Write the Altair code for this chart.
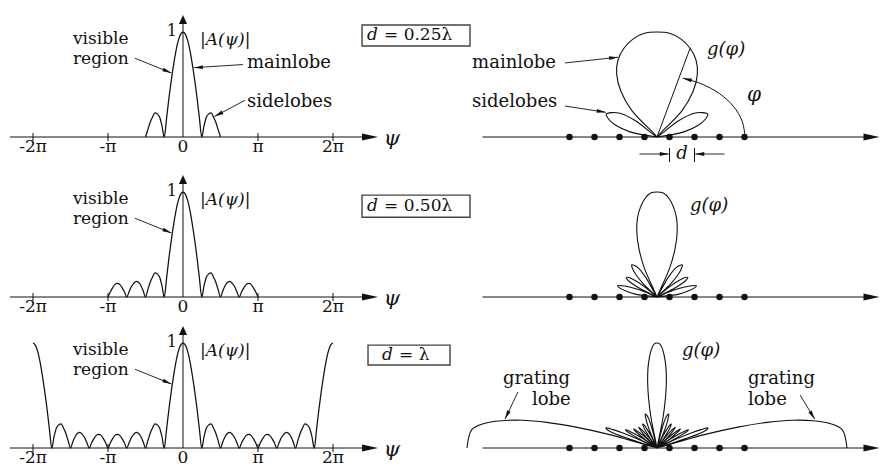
import math
import altair as alt
import pandas as pd

# ---------------- values ----------------
# psi / pi sample positions (0 .. 2), the curve is even in psi
PSI_OVER_PI = [0.0, 0.03125, 0.0625, 0.09375, 0.125, 0.15625, 0.1875, 0.21875, 0.25,
               0.28125, 0.3125, 0.34375, 0.375, 0.40625, 0.4375, 0.46875, 0.5,
               0.53125, 0.5625, 0.59375, 0.625, 0.65625, 0.6875, 0.71875, 0.75,
               0.78125, 0.8125, 0.84375, 0.875, 0.90625, 0.9375, 0.96875, 1.0,
               1.03125, 1.0625, 1.09375, 1.125, 1.15625, 1.1875, 1.21875, 1.25,
               1.28125, 1.3125, 1.34375, 1.375, 1.40625, 1.4375, 1.46875, 1.5,
               1.53125, 1.5625, 1.59375, 1.625, 1.65625, 1.6875, 1.71875, 1.75,
               1.78125, 1.8125, 1.84375, 1.875, 1.90625, 1.9375, 1.96875, 2.0]
# |A(psi)| as drawn in the left-hand plots
A_MAG = [1.00, 0.98, 0.92, 0.82, 0.69, 0.54, 0.37, 0.18, 0.00,
         0.11, 0.19, 0.22, 0.23, 0.19, 0.14, 0.07, 0.00,
         0.06, 0.11, 0.14, 0.15, 0.13, 0.10, 0.05, 0.00,
         0.05, 0.09, 0.12, 0.13, 0.12, 0.09, 0.05, 0.00,
         0.05, 0.09, 0.12, 0.13, 0.12, 0.09, 0.05, 0.00,
         0.05, 0.10, 0.13, 0.15, 0.14, 0.11, 0.06, 0.00,
         0.07, 0.14, 0.19, 0.23, 0.22, 0.19, 0.11, 0.00,
         0.18, 0.37, 0.54, 0.69, 0.82, 0.92, 0.98, 1.00]
# gain g as drawn in the polar plots (same psi samples)
G_POLAR = [1.00, 0.99, 0.94, 0.86, 0.76, 0.63, 0.47, 0.28, 0.00,
           0.19, 0.29, 0.32, 0.33, 0.29, 0.23, 0.14, 0.00,
           0.12, 0.19, 0.23, 0.24, 0.22, 0.18, 0.11, 0.00,
           0.11, 0.16, 0.20, 0.22, 0.20, 0.16, 0.11, 0.00,
           0.11, 0.16, 0.20, 0.22, 0.20, 0.16, 0.11, 0.00,
           0.11, 0.18, 0.22, 0.24, 0.23, 0.19, 0.12, 0.00,
           0.14, 0.23, 0.29, 0.33, 0.32, 0.29, 0.19, 0.00,
           0.28, 0.47, 0.63, 0.76, 0.86, 0.94, 0.99, 1.00]
D_OVER_LAMBDA = [0.25, 0.50, 1.00]
VISIBLE_EDGE = [0.5, 1.0, 2.0]
BOX_TEXT = ["= 0.25λ", "= 0.50λ", "= λ"]
TICK_POS = [-2, -1, 0, 1, 2]
TICK_LABELS = ["-2π", "-π", "0", "π", "2π"]
ELEMENT_POS = [-3.5, -2.5, -1.5, -0.5, 0.5, 1.5, 2.5, 3.5]
PHI_SAMPLE = 3
ARC_T_DEG = [0, 15, 30, 45, 60, 73]

# ---------------- layout / style ----------------
LEFT_W, RIGHT_W = 450, 423
ROW_H = [152, 155, 148]
BASE = [129, 137, 133]
PX_Y = 105.0
PX_PSI = 75.0
PSI0 = 175.0
RIGHT_C = 199.0
PX_PAT = [205.0, 205.0, 190.0]
PX_EL = 25.0
FONT = "DejaVu Serif"
INK = "#111111"
ARC_RX, ARC_RY = 0.43, 0.586
AX_HEAD = "M-1,-0.45L1,0L-1,0.45Z"
UP_HEAD = "M-1,-0.9L1,0L-1,0.9Z"
NOTE_HEAD = "M-1,-0.42L1,0L-1,0.42Z"

half = pd.DataFrame({"psi": PSI_OVER_PI, "a": A_MAG, "g": G_POLAR})
neg = half[half.psi > 0].copy()
neg["psi"] = -neg["psi"]
curve_df = pd.concat([neg.iloc[::-1], half]).reset_index(drop=True)


def sc(lo, hi):
    return alt.Scale(domain=[lo, hi], nice=False, zero=False)


def X(f, s):
    return alt.X(f"{f}:Q", scale=s, axis=None)


def Y(f, s):
    return alt.Y(f"{f}:Q", scale=s, axis=None)


def segs(rows, xs, ys, width=1.0, color=INK):
    df = pd.DataFrame(rows, columns=["x", "y", "x2", "y2"])
    return alt.Chart(df).mark_rule(color=color, strokeWidth=width).encode(
        x=X("x", xs), y=Y("y", ys), x2=alt.X2("x2:Q"), y2=alt.Y2("y2:Q"))


def heads(rows, xs, ys, sx, sy, shape, size):
    L = math.sqrt(size)
    recs = []
    for x1, y1, x2, y2 in rows:
        vx, vy = (x2 - x1) * sx, -(y2 - y1) * sy
        n = math.hypot(vx, vy)
        ux, uy = vx / n, vy / n
        recs.append({"x": x2 - ux * L / 2 / sx, "y": y2 + uy * L / 2 / sy,
                     "ang": math.degrees(math.atan2(uy, ux)) % 360})
    return alt.Chart(pd.DataFrame(recs)).mark_point(
        shape=shape, size=size, filled=True, color=INK, opacity=1, strokeWidth=0
    ).encode(x=X("x", xs), y=Y("y", ys), angle=alt.Angle("ang:Q", scale=None))


def arrows(rows, xs, ys, sx, sy, width=0.9):
    return [segs(rows, xs, ys, width), heads(rows, xs, ys, sx, sy, NOTE_HEAD, 81)]


def texts(rows, xs, ys, size=18, italic=False, align="left", baseline="alphabetic", dx=0):
    df = pd.DataFrame(rows, columns=["x", "y", "t"])
    return alt.Chart(df).mark_text(
        font=FONT, fontSize=size, fontStyle="italic" if italic else "normal",
        align=align, baseline=baseline, color=INK, dx=dx
    ).encode(x=X("x", xs), y=Y("y", ys), text="t:N")


BOX_X = [(2.387, 3.827), (2.387, 3.827), (2.467, 3.56)]
BOX_Y = [(0.867, 1.067), (0.76, 0.97), (0.79, 0.98)]
BOX_JOIN = [2.64, 2.64, 2.84]


def left_panel(r):
    xs = sc(-PSI0 / PX_PSI, (LEFT_W - PSI0) / PX_PSI)
    ys = sc((BASE[r] - ROW_H[r]) / PX_Y, BASE[r] / PX_Y)
    lim = VISIBLE_EDGE[r]
    layers = []
    layers.append(alt.Chart(curve_df).transform_filter(
        f"abs(datum.psi) <= {lim} + 1e-9").mark_line(
        color=INK, strokeWidth=1.25, interpolate="monotone").encode(
        x=X("psi", xs), y=Y("a", ys)))
    layers.append(segs([(-2.307, 0, 2.5, 0), (0, 0, 0, 1.12)], xs, ys, 1.0))
    layers.append(segs([(t, -0.038, t, 0.038) for t in TICK_POS if t != 0], xs, ys, 1.0))
    layers.append(heads([(2.0, 0, 2.6, 0)], xs, ys, PX_PSI, PX_Y, AX_HEAD, 256))
    layers.append(heads([(0, 0.5, 0, 1.162)], xs, ys, PX_PSI, PX_Y, UP_HEAD, 81))
    layers.append(texts([(t, -0.145, l) for t, l in zip(TICK_POS, TICK_LABELS)], xs, ys,
                        size=17, align="center"))
    layers.append(texts([(2.787, -0.02, "ψ")], xs, ys, size=21, italic=True,
                        align="center", baseline="middle"))
    layers.append(texts([(-0.15, 0.96, "1")], xs, ys, size=16, align="center"))
    layers.append(texts([(0.227, 0.876, "|A(ψ)|")], xs, ys, size=17, italic=True))
    layers.append(texts([(-1.467, 0.89, "visible")], xs, ys, size=17))
    layers.append(texts([(-1.467, 0.70, "region")], xs, ys, size=17))
    layers += arrows([(-0.64, 0.75, -0.155, 0.61)], xs, ys, PX_PSI, PX_Y)
    if r == 0:
        layers.append(texts([(0.853, 0.657, "mainlobe")], xs, ys))
        layers.append(texts([(0.853, 0.286, "sidelobes")], xs, ys))
        layers += arrows([(0.80, 0.69, 0.145, 0.66), (0.827, 0.35, 0.42, 0.195)],
                         xs, ys, PX_PSI, PX_Y)
    bx, by, jx = BOX_X[r], BOX_Y[r], BOX_JOIN[r]
    layers.append(alt.Chart(pd.DataFrame([{"x": bx[0], "x2": bx[1], "y": by[0], "y2": by[1]}]))
                  .mark_rect(fillOpacity=0, stroke="#444444", strokeWidth=1.4)
                  .encode(x=X("x", xs), x2=alt.X2("x2:Q"), y=Y("y", ys), y2=alt.Y2("y2:Q")))
    ym = (by[0] + by[1]) / 2
    layers.append(texts([(jx, ym, "d")], xs, ys, size=17, italic=True, align="right",
                        baseline="middle", dx=-3))
    layers.append(texts([(jx, ym, BOX_TEXT[r])], xs, ys, size=17, align="left",
                        baseline="middle", dx=3))
    return alt.layer(*layers).properties(width=LEFT_W, height=ROW_H[r])


def right_panel(r):
    s = PX_PAT[r]
    xs = sc(-RIGHT_C / s, (RIGHT_W - RIGHT_C) / s)
    ys = sc((BASE[r] - ROW_H[r]) / PX_Y, BASE[r] / PX_Y)
    es = sc(-RIGHT_C / PX_EL, (RIGHT_W - RIGHT_C) / PX_EL)
    D = D_OVER_LAMBDA[r]
    lim = VISIBLE_EDGE[r]
    pat = []
    pat.append(alt.Chart(curve_df)
               .transform_filter(f"abs(datum.psi) <= {lim} + 1e-9")
               .transform_calculate(c=f"datum.psi / {2 * D}")
               .transform_calculate(px="datum.g * datum.c",
                                    py="datum.g * sqrt(max(0, 1 - datum.c * datum.c))")
               .mark_line(color=INK, strokeWidth=1.1, interpolate="catmull-rom")
               .encode(x=X("px", xs), y=Y("py", ys), order=alt.Order("psi:Q")))
    gpos = [(0.244, 0.781), (0.161, 0.819), (0.132, 0.876)][r]
    pat.append(texts([(gpos[0], gpos[1], "g(φ)")], xs, ys, size=18, italic=True))
    if r == 0:
        c = PSI_OVER_PI[PHI_SAMPLE] / (2 * D)
        g = G_POLAR[PHI_SAMPLE]
        pat.append(segs([(0, 0, g * c, g * math.sqrt(1 - c * c))], xs, ys, 1.0))
        arc_df = pd.DataFrame({"t": ARC_T_DEG})
        pat.append(alt.Chart(arc_df).transform_calculate(
            ax=f"{ARC_RX} * cos(datum.t * PI / 180)",
            ay=f"{ARC_RY} * sin(datum.t * PI / 180)").mark_line(
            color=INK, strokeWidth=1.0, interpolate="catmull-rom").encode(
            x=X("ax", xs), y=Y("ay", ys), order=alt.Order("t:Q")))
        t1, t2 = math.radians(68), math.radians(ARC_T_DEG[-1])
        pat.append(heads([(ARC_RX * math.cos(t1), ARC_RY * math.sin(t1),
                           ARC_RX * math.cos(t2), ARC_RY * math.sin(t2))],
                         xs, ys, s, PX_Y, NOTE_HEAD, 81))
        pat.append(texts([(0.473, 0.40, "φ")], xs, ys, size=20, italic=True,
                         align="center", baseline="middle"))
        pat.append(texts([(-0.902, 0.657, "mainlobe")], xs, ys))
        pat.append(texts([(-0.902, 0.286, "sidelobes")], xs, ys))
        pat += arrows([(-0.449, 0.705, -0.19, 0.76), (-0.449, 0.295, -0.25, 0.235)],
                      xs, ys, s, PX_Y)
    if r == 2:
        pat.append(texts([(-0.81, 0.61, "grating"), (0.479, 0.61, "grating")], xs, ys))
        pat.append(texts([(-0.658, 0.41, "lobe"), (0.479, 0.41, "lobe")], xs, ys))
        pat += arrows([(-0.732, 0.533, -0.80, 0.275), (0.753, 0.505, 0.83, 0.275)],
                      xs, ys, s, PX_Y)
    el = []
    el.append(segs([(-6.98, 0, 8.5, 0)], es, ys, 1.0))
    el.append(heads([(7.0, 0, 8.9, 0)], es, ys, PX_EL, PX_Y, AX_HEAD, 256))
    el.append(alt.Chart(pd.DataFrame({"n": ELEMENT_POS, "y": [0.0] * len(ELEMENT_POS)}))
              .mark_point(shape="circle", size=42, filled=True, color=INK, opacity=1)
              .encode(x=X("n", es), y=Y("y", ys)))
    if r == 0:
        el.append(segs([(0.5, -0.105, 0.5, -0.238), (1.5, -0.105, 1.5, -0.238)], es, ys, 1.0))
        el += arrows([(-0.7, -0.162, 0.47, -0.162), (2.7, -0.162, 1.53, -0.162)],
                     es, ys, PX_EL, PX_Y)
        el.append(texts([(1.0, -0.162, "d")], es, ys, size=18, italic=True,
                        align="center", baseline="middle"))
    return (alt.layer(alt.layer(*pat), alt.layer(*el))
            .resolve_scale(x="independent")
            .properties(width=RIGHT_W, height=ROW_H[r]))


panels = []
for r in range(3):
    panels += [left_panel(r), right_panel(r)]
chart = (alt.concat(*panels, columns=2, spacing=0, bounds="flush")
         .properties(padding=0)
         .configure_view(stroke=None))

chart.save("out.html", embed_options={"renderer": "svg", "actions": False})
